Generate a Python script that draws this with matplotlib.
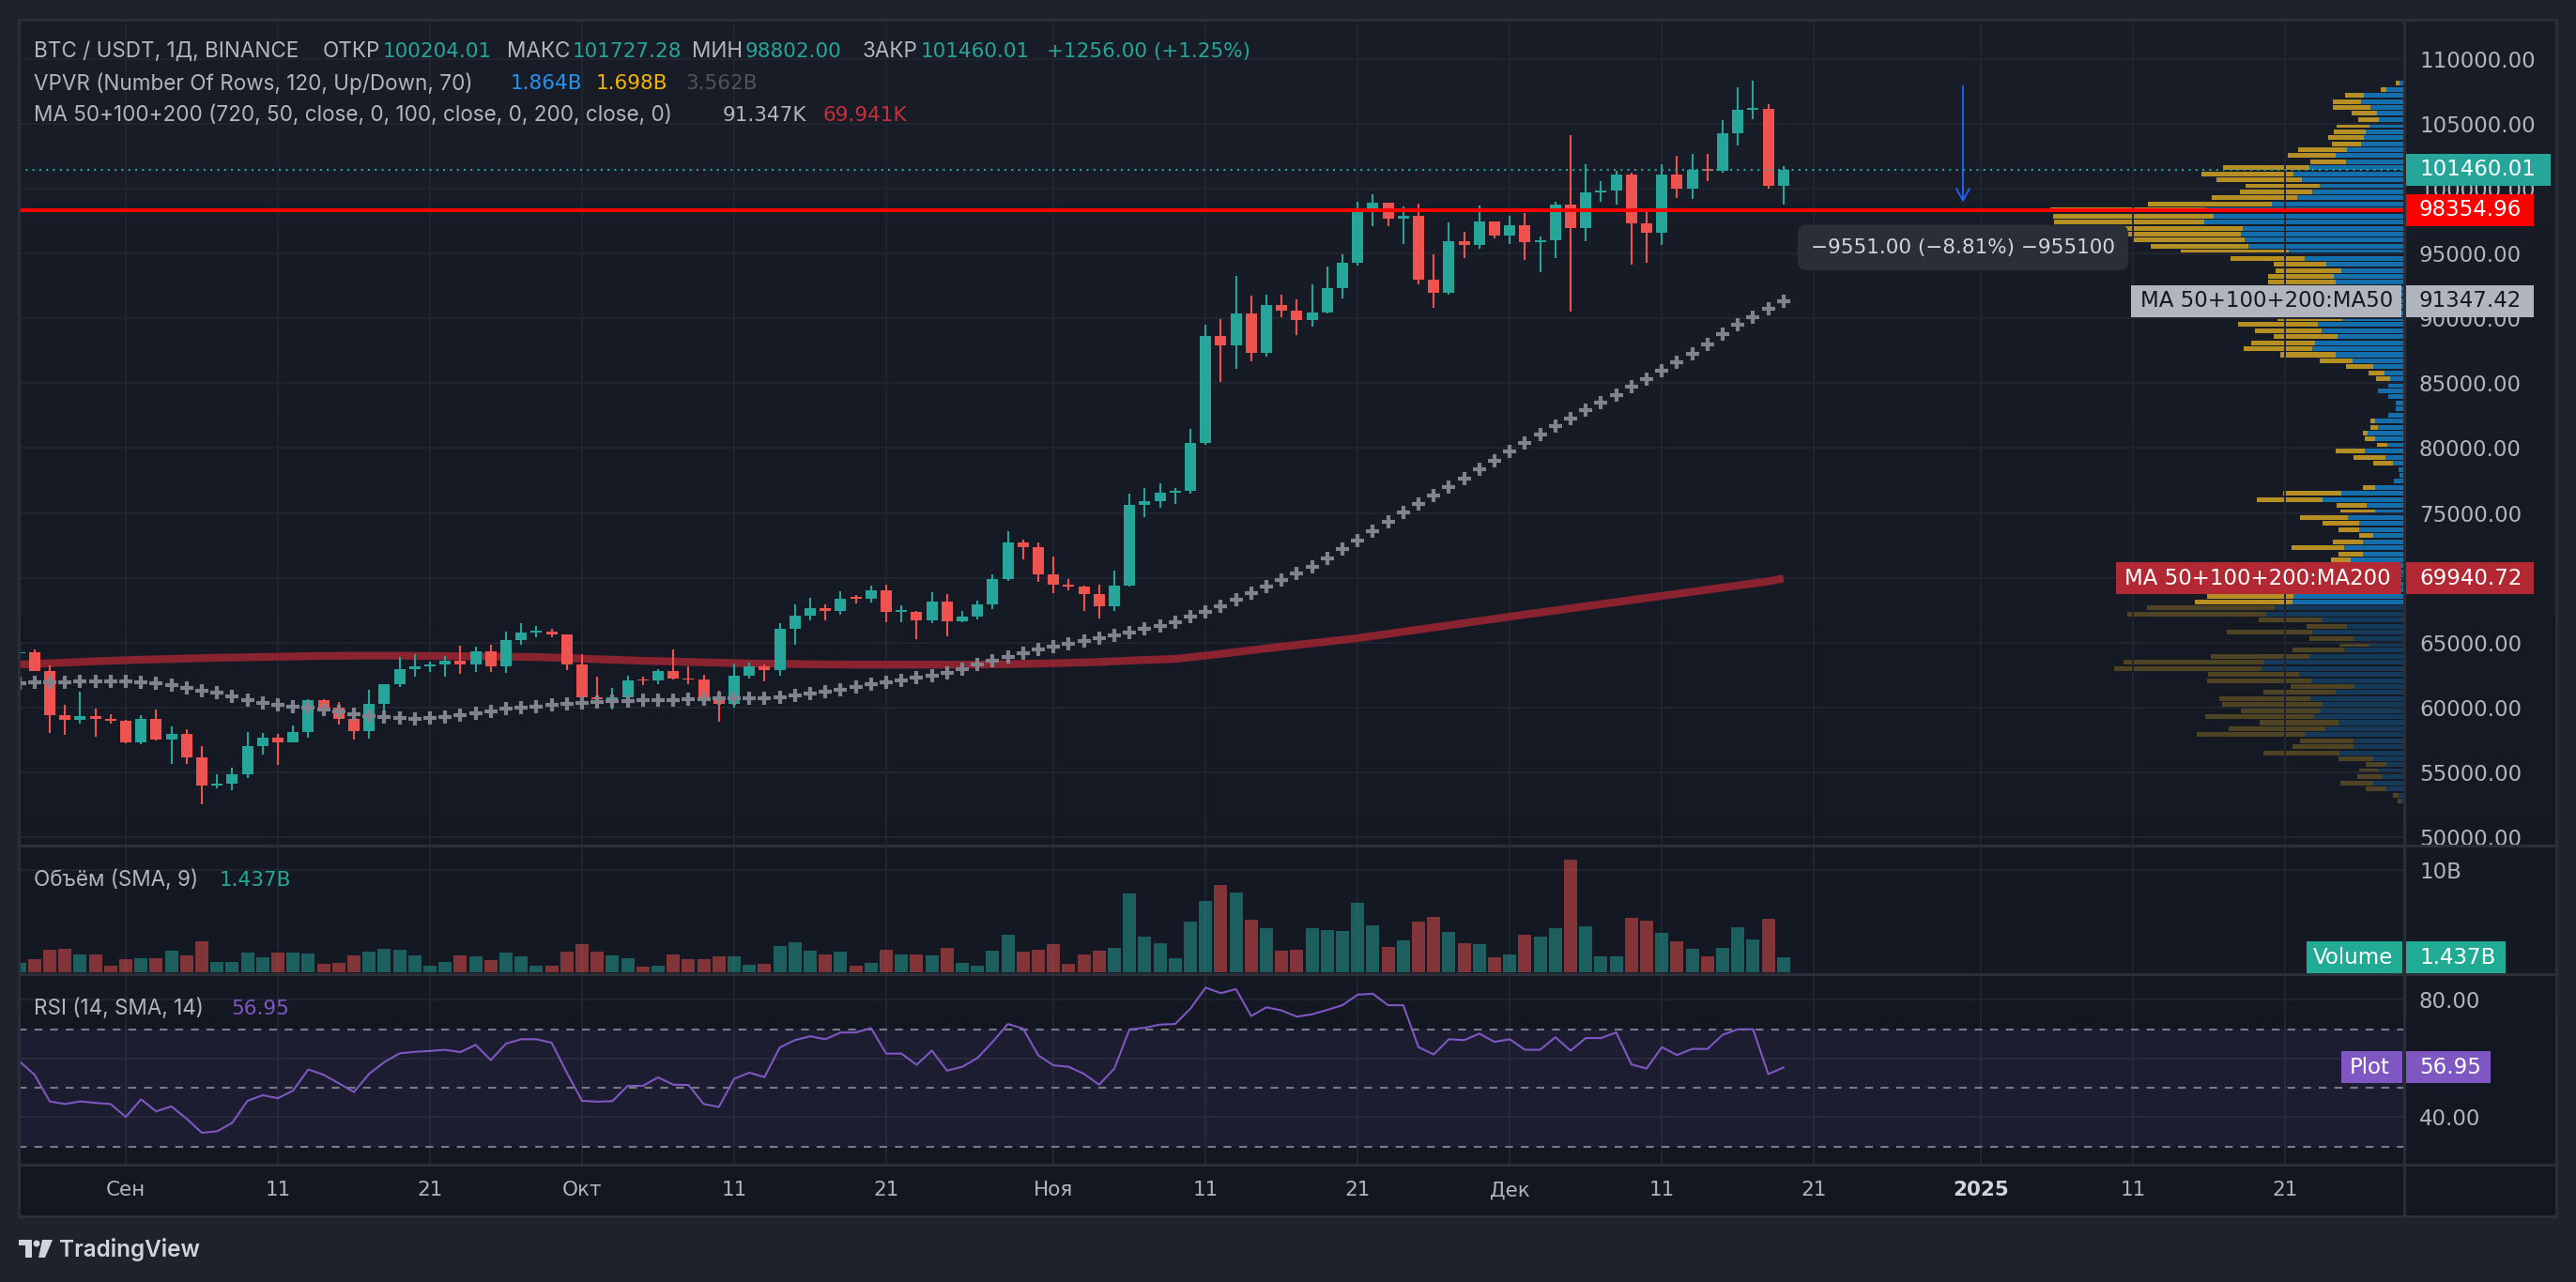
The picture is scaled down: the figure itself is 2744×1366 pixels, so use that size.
import numpy as np
import pandas as pd
import matplotlib
matplotlib.use("Agg")
import matplotlib.pyplot as plt
import matplotlib.transforms as mtransforms
from matplotlib.colors import LinearSegmentedColormap, to_rgba
from matplotlib.lines import Line2D
from matplotlib.patches import Rectangle, Ellipse, Polygon

plt.rcParams["font.family"] = ["DejaVu Sans"]
PROSE = ["Inter", "DejaVu Sans"]

# ---------------- data ----------------
first_day = "2024-08-25"
opens = [64160, 64260, 62830, 59420, 59030, 59370, 59120,
         58970, 57300, 59130, 57490, 57970, 56160, 53950, 54160, 54870, 57040,
         57650, 57340, 58130, 60570, 60010, 59130, 58210, 60310, 61760, 62950,
         63200, 63350, 63580, 63330, 64300, 63140, 65180, 65770, 65870, 65600,
         63300, 60800, 60650, 60750, 62080, 62050, 62820, 62220, 62130, 60580,
         60270, 62450, 63190, 62850, 66080, 67070, 67620, 67420, 68380, 68360,
         69000, 67370, 67380, 66680, 68160, 66640, 67010, 67940, 69900, 72720,
         72340, 70280, 69480, 69350, 68740, 67810, 69360, 75640, 75900, 76540,
         76680, 80370, 88650, 87950, 90380, 87320, 91060, 90580, 89850, 90460,
         92310, 94290, 98350, 98890, 97670, 97900, 93010, 91970, 95960, 95650,
         97460, 96410, 97190, 95840, 96000, 98770, 96950, 99740, 99830, 101110,
         97340, 96590, 101110, 100000, 101420, 101370, 104300, 106060, 106130,
         100204.01]
highs = [64990, 64480, 63210, 60230, 61190, 59900, 59460,
         59060, 59400, 59810, 58520, 58330, 56990, 54850, 55320, 58120, 58040,
         57990, 58590, 60670, 60660, 60390, 59210, 61380, 61790, 63870, 64130,
         63560, 64000, 64750, 64690, 64830, 65840, 66500, 66260, 66080, 65630,
         64130, 62390, 61470, 62480, 62370, 62980, 64480, 63200, 62540, 61320,
         63420, 63480, 63280, 66500, 67950, 68420, 67940, 68970, 68690, 69400,
         69500, 67840, 67470, 68850, 68770, 67450, 68220, 70270, 73620, 72960,
         72700, 71630, 69900, 69390, 69480, 70580, 76500, 76940, 77250, 76930,
         81500, 89530, 89940, 93270, 91760, 91850, 91800, 91450, 92600, 94000,
         94900, 99000, 99590, 98900, 98600, 98870, 94970, 97360, 96650, 98690,
         97500, 97900, 98150, 96300, 99000, 104090, 101900, 100550, 101400,
         101220, 98270, 101890, 102540, 102650, 102650, 105250, 107780, 108350,
         106520, 101727.28]
lows = [63780, 62800, 58030, 57860, 58750, 57720, 58740,
        57200, 57130, 57420, 55610, 55640, 52550, 53740, 53630, 54590, 56400,
        55550, 57320, 57640, 59460, 58700, 57500, 57610, 59170, 61580, 62350,
        62740, 62360, 62580, 62700, 62740, 62670, 64800, 65420, 65430, 62850,
        60160, 59980, 59830, 60460, 61690, 61830, 62130, 61820, 60300, 58890,
        60000, 62210, 62040, 62420, 64800, 66750, 66680, 67160, 68020, 68100,
        66570, 66570, 65260, 66480, 65520, 66570, 66770, 67600, 69730, 71440,
        69690, 68820, 69020, 67460, 66840, 67460, 69320, 74700, 75410, 75720,
        76490, 80220, 85070, 86130, 86670, 87080, 90090, 88720, 89380, 90370,
        91500, 94100, 97120, 97130, 95740, 92600, 90790, 91820, 94660, 95380,
        96150, 95700, 94500, 93580, 94660, 90500, 95980, 98960, 98770, 94150,
        94260, 95690, 99310, 99210, 100610, 101230, 103300, 105320, 100000,
        98802.00]
closes = [64260, 62830, 59420, 59030, 59370, 59120, 58970,
          57300, 59130, 57490, 57970, 56160, 53950, 54160, 54870, 57040, 57650,
          57340, 58130, 60570, 60010, 59130, 58210, 60310, 61760, 62950, 63200,
          63350, 63580, 63330, 64300, 63140, 65180, 65770, 65870, 65600, 63300,
          60800, 60650, 60750, 62080, 62050, 62820, 62220, 62130, 60580, 60270,
          62450, 63190, 62850, 66080, 67070, 67620, 67420, 68380, 68360, 69000,
          67370, 67380, 66680, 68160, 66640, 67010, 67940, 69900, 72720, 72340,
          70280, 69480, 69350, 68740, 67810, 69360, 75640, 75900, 76540, 76680,
          80370, 88650, 87950, 90380, 87320, 91060, 90580, 89850, 90460, 92310,
          94290, 98350, 98890, 97670, 97900, 93010, 91970, 95960, 95650, 97460,
          96410, 97190, 95840, 96000, 98770, 96950, 99740, 99830, 101110, 97340,
          96590, 101110, 100000, 101420, 101370, 104300, 106060, 106130, 100200,
          101460.01]
ma50 = [61870, 61940, 61960, 61970, 61990, 62000, 62010,
        62010, 61940, 61870, 61700, 61500, 61320, 61140, 60850, 60560, 60380,
        60200, 60060, 59950, 59840, 59660, 59480, 59370, 59260, 59190, 59120,
        59190, 59260, 59400, 59550, 59730, 59910, 59990, 60060, 60170, 60280,
        60350, 60420, 60460, 60490, 60530, 60560, 60600, 60640, 60660, 60680,
        60700, 60710, 60740, 60780, 60920, 61070, 61180, 61330, 61550, 61760,
        61920, 62080, 62270, 62470, 62660, 62970, 63290, 63600, 63890, 64180,
        64470, 64690, 64900, 65120, 65340, 65550, 65770, 66040, 66300, 66570,
        66980, 67390, 67800, 68310, 68810, 69320, 69830, 70330, 70840, 71520,
        72190, 72870, 73590, 74310, 75030, 75690, 76340, 77000, 77640, 78340,
        79040, 79740, 80390, 81040, 81690, 82290, 82900, 83500, 84100, 84710,
        85310, 85960, 86610, 87260, 88010, 88750, 89500, 90100, 90710, 91347.42]
ma200 = [63310, 63360, 63410, 63460, 63510, 63560, 63600,
         63640, 63680, 63710, 63740, 63770, 63800, 63830, 63850, 63870, 63890,
         63910, 63930, 63950, 63970, 63980, 63990, 63990, 63990, 63990, 63980,
         63970, 63960, 63950, 63940, 63930, 63920, 63900, 63890, 63850, 63810,
         63760, 63720, 63680, 63640, 63600, 63570, 63540, 63510, 63480, 63450,
         63420, 63390, 63380, 63360, 63350, 63330, 63320, 63310, 63300, 63300,
         63300, 63300, 63300, 63300, 63300, 63300, 63310, 63320, 63340, 63360,
         63380, 63410, 63440, 63470, 63510, 63560, 63610, 63660, 63700, 63750,
         63870, 64000, 64130, 64270, 64410, 64550, 64690, 64820, 64950, 65080,
         65210, 65340, 65510, 65670, 65840, 66000, 66170, 66340, 66500, 66670,
         66830, 67000, 67160, 67320, 67480, 67640, 67800, 67960, 68120, 68280,
         68440, 68600, 68760, 68920, 69080, 69240, 69400, 69560, 69720, 69940.72]
volume_b = [0.89, 1.25, 2.17, 2.26, 1.71, 1.71, 0.64,
            1.25, 1.35, 1.35, 2.08, 1.62, 3.00, 0.98, 0.98, 1.90, 1.44,
            1.90, 1.90, 1.80, 0.80, 0.89, 1.62, 1.99, 2.26, 2.17, 1.62,
            0.61, 0.98, 1.62, 1.53, 1.16, 1.90, 1.53, 0.61, 0.61, 1.99,
            2.72, 1.99, 1.62, 1.35, 0.52, 0.61, 1.71, 1.25, 1.25, 1.53,
            1.53, 0.70, 0.80, 2.54, 2.90, 2.08, 1.71, 1.99, 0.61, 0.89,
            2.17, 1.71, 1.71, 1.62, 2.35, 0.89, 0.61, 2.08, 3.64, 1.99,
            2.17, 2.72, 0.80, 1.71, 2.08, 2.35, 7.68, 3.46, 2.81, 1.35,
            4.92, 6.94, 8.50, 7.77, 5.11, 4.28, 2.08, 2.17, 4.28, 4.10,
            4.00, 6.76, 4.56, 2.45, 3.09, 4.92, 5.38, 3.91, 2.81, 2.72,
            1.44, 1.71, 3.64, 3.46, 4.28, 10.98, 4.46, 1.53, 1.53, 5.29,
            5.02, 3.82, 3.00, 2.26, 1.53, 2.35, 4.37, 3.18, 5.20, 1.437]
rsi = [59.1, 54.5, 45.4, 44.5, 45.4, 44.9, 44.5,
       40.1, 46.1, 42.0, 43.7, 39.5, 34.7, 35.2, 38.1, 45.6, 47.5,
       46.5, 49.1, 56.3, 54.5, 51.6, 48.6, 54.8, 58.8, 61.8, 62.3,
       62.6, 63.0, 62.2, 64.7, 59.5, 65.1, 66.6, 66.6, 65.4, 55.2,
       45.6, 45.3, 45.5, 50.7, 50.7, 53.6, 51.1, 51.0, 44.5, 43.5,
       53.1, 55.2, 53.7, 63.8, 66.3, 67.6, 66.6, 68.9, 68.9, 70.4,
       61.7, 61.7, 57.9, 62.7, 55.9, 57.2, 60.2, 65.7, 71.8, 70.2,
       61.1, 57.7, 57.2, 54.8, 51.1, 56.6, 70.0, 70.5, 71.6, 71.8,
       77.0, 84.2, 82.3, 83.7, 74.5, 77.5, 76.4, 74.3, 75.1, 76.6,
       78.2, 81.8, 82.1, 78.2, 78.2, 63.9, 61.4, 66.6, 66.3, 68.5,
       65.7, 66.6, 63.0, 63.0, 67.3, 62.7, 67.0, 67.0, 68.9, 58.0,
       56.6, 63.9, 61.2, 63.3, 63.3, 68.1, 70.0, 70.0, 54.7, 56.95]

# visible-range volume profile, 120 rows from low to high (relative units)
vp_low, vp_high, vp_rows = 52550, 108350, 120
vp_total = [6.8, 11.7, 40.9, 67.8, 50.0, 47.7, 40.9, 69.7, 149.9, 118.9,
            110.9, 220.8, 186.7, 153.8, 211.7, 173.9, 193.9, 196.9, 149.9, 120.8,
            209.8, 208.7, 308.7, 298.9, 205.7, 118.9, 68.9, 100.8, 189.0, 104.2,
            155.3, 294.7, 273.9, 222.7, 209.8, 190, 160, 130, 110, 90,
            78.0, 69.7, 119.7, 75.8, 47.7, 69.7, 86.7, 111.0, 67.8, 72.0,
            156.8, 128.8, 43.6, 11.0, 4.9, 6.1, 33.0, 54.5, 73.5, 29.5,
            41.7, 44.3, 36.4, 35.6, 17.0, 8.7, 8.7, 17.0, 28.0, 17.0,
            30.3, 37.9, 61.7, 89.8, 131.8, 170.8, 162.9, 139.0, 158.7, 176.9,
            134.8, 135, 130, 140, 160, 150, 145.1, 145.1, 137.2, 139.2,
            185.1, 238.3, 270, 290, 305, 320, 373.5, 374.2, 377.5, 273.0,
            205.1, 175.1, 169.1, 200.4, 216.4, 193.1, 100.5, 124.5, 113.2, 77.2,
            80.6, 74.6, 72.0, 49.3, 55.9, 75.9, 75.9, 63.2, 24.6, 9.3]
vp_up = [3.0, 6.1, 18.9, 32.6, 23.1, 28.4, 18.9, 32.6, 68.9, 54.5,
         53.8, 104.9, 83.7, 69.7, 95.8, 89.4, 87.5, 100.4, 73.5, 52.7,
         98.9, 111.7, 151.9, 148.9, 101.5, 64.0, 36.7, 53.8, 98.5, 60.6,
         87.5, 147.3, 138.3, 119.0, 118.2, 100, 85, 70, 60, 50,
         56.8, 43.9, 63.6, 43.9, 32.6, 47.7, 47.7, 59.8, 31.1, 39.8,
         86.7, 67.0, 31.1, 11.0, 4.9, 6.1, 11.7, 20.1, 42.0, 17.8,
         31.4, 39.0, 28.0, 31.1, 17.0, 8.7, 8.7, 17.0, 28.0, 17.0,
         14.8, 20.8, 33.0, 54.9, 72.7, 98.1, 95.1, 71.2, 88.3, 92.4,
         65.9, 68, 65, 70, 80, 75, 72.6, 74.6, 67.2, 83.2,
         106.5, 123.2, 166.4, 169.8, 174.4, 172.4, 213.1, 203.1, 211.1, 141.1,
         114.5, 98.5, 90.5, 109.2, 118.5, 101.2, 62.0, 73.2, 61.3, 45.9,
         43.3, 41.3, 37.3, 27.3, 29.3, 35.9, 45.9, 43.3, 19.3, 5.3]
value_area_first_row = 33

last_price = 101460.01
level_price = 98354.96
measure_from, measure_to = 107905.96, 98354.96
measure_day = 120.8

tick_dates = ["2024-09-01", "2024-09-11", "2024-09-21", "2024-10-01", "2024-10-11",
              "2024-10-21", "2024-11-01", "2024-11-11", "2024-11-21", "2024-12-01",
              "2024-12-11", "2024-12-21", "2025-01-01", "2025-01-11", "2025-01-21"]
tick_labels = ["Сен", "11", "21", "Окт", "11", "21", "Ноя", "11", "21", "Дек",
               "11", "21", "2025", "11", "21"]
price_ticks = list(range(50000, 110001, 5000))

# ---------------- layout ----------------
W, H, DPI = 2744, 1366, 100
FS_TXT = 16.2   # prose (Inter)
FS_NUM = 15.5   # numbers in the legend lines
FS_AX = 16.5    # price scale and its tags
FRAME = "#1e222d"
TXT = "#b2b5be"
GRID = "#212530"
SEP = "#2a2e39"
UP = "#26a69a"
DOWN = "#ef5350"

origin = pd.Timestamp("2024-09-01")
dates = pd.date_range(first_day, periods=len(closes), freq="D")
x = np.asarray((dates - origin).days, dtype=float)
tick_x = np.asarray((pd.to_datetime(tick_dates) - origin).days, dtype=float)

o, h, l, c = map(np.array, (opens, highs, lows, closes))
up_day = c >= o

CH_L, CH_R, AX_R = 20, 2561, 2723
MAIN_T, MAIN_B, VOL_B, RSI_B, TIME_B = 21, 901, 1038, 1241, 1296
SEP1_PX, DAY_PX = 134, 16.2
xlim = ((CH_L - SEP1_PX) / DAY_PX, (CH_R - SEP1_PX) / DAY_PX)
price_lim = (50000 - (MAIN_B - 892) / 69.1 * 5000, 50000 + (892 - MAIN_T) / 69.1 * 5000)
vol_lim = (-(VOL_B - 1036) / 10.9, (1036 - MAIN_B) / 10.9)
rsi_lim = (70 - (RSI_B - 1096.7) / 3.125, 70 + (1096.7 - VOL_B) / 3.125)


def frac(x0, y0, x1, y1):
    return [x0 / W, 1 - y1 / H, (x1 - x0) / W, (y1 - y0) / H]


fig = plt.figure(figsize=(W / DPI, H / DPI), dpi=DPI, facecolor=FRAME)

bg = fig.add_axes(frac(CH_L, MAIN_T, AX_R, TIME_B))
bg.imshow(np.linspace(0, 1, 256)[:, None], aspect="auto", origin="upper",
          extent=(0, 1, 0, 1),
          cmap=LinearSegmentedColormap.from_list("bg", ["#191d28", "#131722"]))
bg.set_axis_off()


def pane(top, bottom, ylim, ticks, labels):
    a = fig.add_axes(frac(CH_L, top, CH_R, bottom))
    a.set_facecolor("none")
    a.set_xlim(*xlim)
    a.set_ylim(*ylim)
    for s in a.spines.values():
        s.set_visible(False)
    a.tick_params(axis="x", bottom=False, labelbottom=False)
    a.yaxis.tick_right()
    a.set_yticks(ticks)
    a.set_yticklabels(labels, fontsize=FS_AX, color=TXT, family="DejaVu Sans")
    a.tick_params(axis="y", length=0, pad=11.5)
    for t in ticks:
        a.axhline(t, color=GRID, lw=1.4, zorder=0)
    for tx in tick_x:
        a.axvline(tx, color=GRID, lw=1.4, zorder=0)
    return a


# volume profile (behind the main pane)
axv = fig.add_axes(frac(CH_L, MAIN_T, CH_R, MAIN_B))
axv.set_facecolor("none")
axv.set_axis_off()
axv.set_xlim(CH_R - CH_L, 0)
axv.set_ylim(*price_lim)
step = (vp_high - vp_low) / vp_rows
vp_y = vp_low + step * (np.arange(vp_rows) + 0.5)
vp_up_a = np.array(vp_up)
vp_dn_a = np.array(vp_total) - vp_up_a
in_va = np.arange(vp_rows) >= value_area_first_row
up_cols = [to_rgba("#1592e6", 0.7 if v else 0.27) for v in in_va]
dn_cols = [to_rgba("#fbc123", 0.7 if v else 0.25) for v in in_va]
axv.barh(vp_y, vp_up_a, height=step * 0.78, left=0, color=up_cols, lw=0)
axv.barh(vp_y, vp_dn_a, height=step * 0.78, left=vp_up_a, color=dn_cols, lw=0)

# main price pane
ax = pane(MAIN_T, MAIN_B, price_lim, price_ticks, [f"{p:.2f}" for p in price_ticks])

ax.plot(x, ma200, color="#8a2330", lw=6, solid_capstyle="butt", zorder=3)
cols = np.where(up_day, UP, DOWN)
ax.vlines(x, l, h, colors=cols, lw=1.5, zorder=4)
ax.bar(x, np.maximum(np.abs(c - o), 130), bottom=np.minimum(o, c), width=0.74,
       color=cols, lw=0, zorder=5)
ax.plot(x, ma50, ls="none", marker="+", ms=9.5, mew=3, color="#80838e", zorder=6)

ax.axhline(last_price, color=UP, lw=1.5, ls=(0, (1, 2.5)), zorder=7)
ax.axhline(level_price, color="#ff0000", lw=2.9, zorder=7)

ax.annotate("", xy=(measure_day, measure_to + 600), xytext=(measure_day, measure_from),
            arrowprops=dict(arrowstyle="->,head_length=0.9,head_width=0.5",
                            color="#2962ff", lw=1.3, shrinkA=0, shrinkB=0), zorder=8)
ax.text(measure_day, measure_to,
        "\u22129551.00 (\u22128.81%) \u2212955100",
        transform=ax.transData + mtransforms.ScaledTranslation(0, -40 / DPI, fig.dpi_scale_trans),
        ha="center", va="center", color="#d1d4dc", fontsize=FS_NUM, zorder=22,
        bbox=dict(boxstyle="round,pad=0.66,rounding_size=0.45", fc="#2a2e39", ec="none"))

# volume pane
axvol = pane(MAIN_B, VOL_B, vol_lim, [10], ["10B"])
vcols = [to_rgba(UP if u else DOWN, 0.5) for u in up_day]
axvol.bar(x, volume_b, width=0.86, color=vcols, lw=0, zorder=3)

# rsi pane
axr = pane(VOL_B, RSI_B, rsi_lim, [40, 60, 80], ["40.00", "60.00", "80.00"])
axr.axhspan(30, 70, color="#7e57c2", alpha=0.1, lw=0, zorder=1)
for v in (70, 50, 30):
    axr.axhline(v, color="#787b86", lw=1.5, ls=(0, (4, 4)), zorder=2)
axr.plot(x, rsi, color="#7e57c2", lw=1.5, zorder=4)

# time axis
axt = fig.add_axes(frac(CH_L, RSI_B, CH_R, TIME_B))
axt.set_facecolor("none")
axt.set_axis_off()
axt.set_xlim(*xlim)
for tx, tl in zip(tick_x, tick_labels):
    axt.text(tx, 0.5, tl, transform=axt.get_xaxis_transform(), ha="center", va="center",
             fontsize=FS_NUM, color="#d1d4dc" if tl == "2025" else TXT,
             fontweight="bold" if tl == "2025" else "normal")

# separators / frame
for yy in (MAIN_T, MAIN_B, VOL_B, RSI_B, TIME_B):
    fig.add_artist(Line2D([CH_L / W, AX_R / W], [1 - yy / H] * 2, color=SEP, lw=2.2))
for xx in (CH_L, CH_R, AX_R):
    fig.add_artist(Line2D([xx / W] * 2, [1 - MAIN_T / H, 1 - TIME_B / H], color=SEP, lw=2.2))


def tag(a, y, x0, x1, label, fc, tc, tx=None, hpx=34):
    tr = mtransforms.blended_transform_factory(fig.transFigure, a.transData)
    y0, y1 = a.get_ylim()
    upp = (y1 - y0) / (a.get_position().height * H)
    a.add_patch(Rectangle((x0 / W, y - hpx / 2 * upp), (x1 - x0) / W, hpx * upp,
                          transform=tr, fc=fc, ec="none", zorder=20, clip_on=False))
    a.text((tx if tx is not None else x0 + 16) / W, y, label, transform=tr, ha="left",
           va="center", color=tc, fontsize=FS_AX, zorder=21, clip_on=False)


tag(ax, last_price, CH_R, 2717, f"{last_price:.2f}", UP, "white", tx=2577)
tag(ax, level_price, CH_R, 2699, f"{level_price:.2f}", "#ff0000", "white", tx=2577)
tag(ax, ma50[-1], 2270, 2558, "MA 50+100+200:MA50", "#b2b5be", "#131722", tx=2280)
tag(ax, ma50[-1], 2560, 2699, f"{ma50[-1]:.2f}", "#b2b5be", "#131722", tx=2577)
tag(ax, ma200[-1], 2254, 2558, "MA 50+100+200:MA200", "#b22833", "white", tx=2263)
tag(ax, ma200[-1], 2560, 2699, f"{ma200[-1]:.2f}", "#b22833", "white", tx=2577)
tag(axvol, volume_b[-1], 2457, 2559, "Volume", "#22ab94", "white", tx=2464)
tag(axvol, volume_b[-1], 2561, 2669, f"{volume_b[-1]:.3f}B", "#22ab94", "white", tx=2577)
tag(axr, rsi[-1], 2494, 2559, "Plot", "#7e57c2", "white", tx=2503)
tag(axr, rsi[-1], 2561, 2653, f"{rsi[-1]:.2f}", "#7e57c2", "white", tx=2577)


def ftext(px, py, s, color=TXT, num=False, **kw):
    fig.text(px / W, 1 - py / H, s, ha="left", va="center", color=color,
             fontsize=FS_NUM if num else FS_TXT,
             family=["DejaVu Sans"] if num else PROSE, **kw)


# legend lines
ftext(36, 55, "BTC / USDT, 1Д, BINANCE")
for lab, lx, val, vx in (("ОТКР", 344, "100204.01", 408), ("МАКС", 540, "101727.28", 610),
                         ("МИН", 737, "98802.00", 794), ("ЗАКР", 919, "101460.01", 981)):
    ftext(lx, 55, lab)
    ftext(vx, 55, val, UP, num=True)
ftext(1115, 55, "+1256.00 (+1.25%)", UP, num=True)
ftext(36, 89, "VPVR (Number Of Rows, 120, Up/Down, 70)")
ftext(544, 89, "1.864B", "#2196f3", num=True)
ftext(635, 89, "1.698B", "#f7b500", num=True)
ftext(730, 89, "3.562B", "#4f535c", num=True)
ftext(36, 123, "MA 50+100+200 (720, 50, close, 0, 100, close, 0, 200, close, 0)")
ftext(770, 123, "91.347K", num=True)
ftext(876, 123, "69.941K", "#c62f3b", num=True)
ftext(36, 938, "Объём (SMA, 9)")
ftext(234, 938, "1.437B", "#22ab94", num=True)
ftext(36, 1075, "RSI (14, SMA, 14)")
ftext(246, 1075, "56.95", "#7e57c2", num=True)

# TradingView logo
logo = "#d1d4dc"
fig.add_artist(Rectangle((20 / W, 1 - 1327 / H), 14 / W, 6 / H, transform=fig.transFigure, fc=logo, ec="none"))
fig.add_artist(Rectangle((27 / W, 1 - 1340 / H), 7 / W, 19 / H, transform=fig.transFigure, fc=logo, ec="none"))
fig.add_artist(Ellipse((39 / W, 1 - 1325 / H), 7 / W, 7 / H, transform=fig.transFigure, fc=logo, ec="none"))
fig.add_artist(Polygon([(45 / W, 1 - 1321 / H), (56 / W, 1 - 1321 / H), (48 / W, 1 - 1340 / H),
                        (41 / W, 1 - 1340 / H)], closed=True, transform=fig.transFigure,
                       fc=logo, ec="none"))
fig.text(63 / W, 1 - 1331 / H, "TradingView", ha="left", va="center", color=logo,
         fontsize=17.5, fontweight="semibold", family=PROSE)

fig.savefig("out.png", dpi=DPI, facecolor=FRAME)
